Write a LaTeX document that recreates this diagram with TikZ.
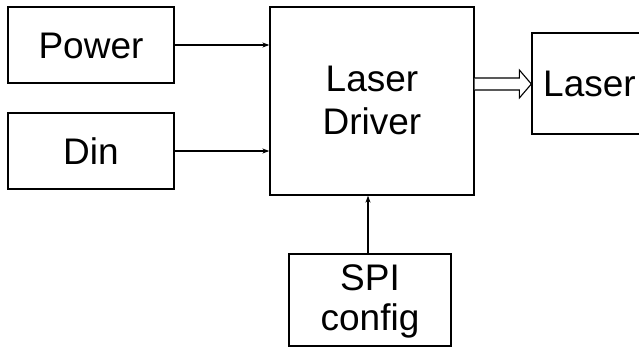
\documentclass[tikz,border=0pt]{standalone}
\usepackage{fontspec}
\setmainfont{Liberation Sans}
\usetikzlibrary{arrows.meta,calc}
\begin{document}
\begin{tikzpicture}[x=1pt,y=-1pt,
  blk/.style={draw=black,line width=1.3pt,inner sep=0pt,align=center,
    font=\fontsize{37}{43}\selectfont},
  one/.style={text height=26.5pt,text depth=0pt},
  conn/.style={line width=1.1pt,-{Stealth[length=7pt,width=5pt]}}]
\clip (0,0) rectangle (639,349);
\fill[white] (0,0) rectangle (639,349);
\node[blk,one,minimum width=166pt,minimum height=76pt] (pw) at (91,45) {Power};
\node[blk,one,minimum width=166pt,minimum height=76pt] (din) at (91,151) {Din};
\node[blk,minimum width=204pt,minimum height=188pt] (drv) at (372,101) {};
\node[font=\fontsize{37}{43}\selectfont,align=center,anchor=base] (drvt) at (372,134.5) {Laser\\Driver};
\node[blk,one,minimum width=115pt,minimum height=101pt] (las) at (589.5,83.5) {Laser};
\node[blk,minimum width=162pt,minimum height=92pt] (spi) at (370,300) {};
\node[font=\fontsize{37}{40}\selectfont,align=center,anchor=base] (spit) at (370,330) {SPI\\config};
\draw[conn] (pw.east) -- (drv.west |- pw.east);
\draw[conn] (din.east) -- (drv.west |- din.east);
\coordinate (s0) at (368,254);
\draw[conn] (spi.north -| s0) -- (drv.south -| s0);
% hollow double arrow
\coordinate (ha) at (drv.east |- 0,84);
\coordinate (hb) at (las.west |- 0,84);
\draw[line width=1.1pt,fill=white,line join=miter]
  ($(ha)+(0,-6)$) -- ($(hb)+(-12,-6)$) -- ($(hb)+(-12,-14)$) -- (hb)
  -- ($(hb)+(-12,14)$) -- ($(hb)+(-12,6)$) -- ($(ha)+(0,6)$);
\end{tikzpicture}
\end{document}
